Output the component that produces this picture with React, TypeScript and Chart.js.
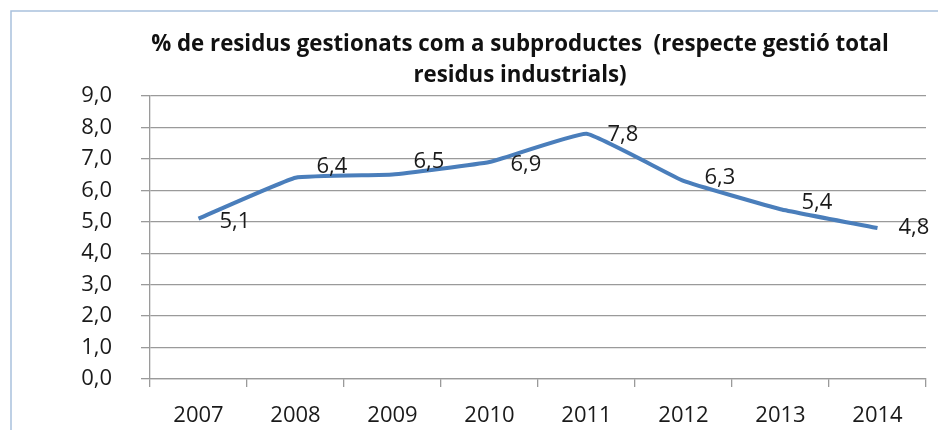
import React, { useEffect, useRef } from "react";
import { Chart, registerables } from "chart.js";

Chart.register(...registerables);

const years = ["2007", "2008", "2009", "2010", "2011", "2012", "2013", "2014"];
const values = [5.1, 6.4, 6.5, 6.9, 7.8, 6.3, 5.4, 4.8];
const labelDy = [3, -11, -13, 3, 1, -3, -6, 0];
const titleLines = [
  "% de residus gestionats com a subproductes  (respecte gestió total",
  "residus industrials)",
];
const yMin = 0;
const yMax = 9;
const yStep = 1;

const FONT = "'Open Sans', 'Liberation Sans', sans-serif";
const fmt = (v: number) => v.toFixed(1).replace(".", ",");

export default function App() {
  const ref = useRef<HTMLCanvasElement | null>(null);

  useEffect(() => {
    if (!ref.current) return;

    const framePlugin = {
      id: "frame",
      beforeDraw(chart: any) {
        const ctx = chart.ctx;
        ctx.save();
        ctx.fillStyle = "#ffffff";
        ctx.fillRect(0, 0, chart.width, chart.height);
        ctx.strokeStyle = "#A9C1DD";
        ctx.lineWidth = 1.5;
        ctx.beginPath();
        ctx.moveTo(11, chart.height);
        ctx.lineTo(11, 11);
        ctx.lineTo(chart.width, 11);
        ctx.stroke();
        // title
        ctx.fillStyle = "#111111";
        ctx.textAlign = "center";
        ctx.textBaseline = "middle";
        let size = 20;
        ctx.font = `bold ${size}px ${FONT}`;
        const w = ctx.measureText(titleLines[0]).width;
        size = (size * 738) / w;
        ctx.font = `bold ${size}px ${FONT}`;
        ctx.fillText(titleLines[0], 520, 45);
        ctx.fillText(titleLines[1], 520, 76);
        ctx.restore();
      },
    };

    const labelPlugin = {
      id: "valueLabels",
      afterDatasetsDraw(chart: any) {
        const ctx = chart.ctx;
        const meta = chart.getDatasetMeta(0);
        ctx.save();
        ctx.font = `22px ${FONT}`;
        ctx.fillStyle = "#1a1a1a";
        ctx.textAlign = "left";
        ctx.textBaseline = "middle";
        meta.data.forEach((pt: any, i: number) => {
          ctx.fillText(fmt(values[i]), pt.x + 21, pt.y + labelDy[i]);
        });
        ctx.restore();
      },
    };

    const chart = new Chart(ref.current, {
      type: "line",
      data: {
        labels: years,
        datasets: [
          {
            data: values,
            borderColor: "#4A7EBB",
            borderWidth: 4,
            pointRadius: 0,
            tension: 0.1,
            fill: false,
          },
        ],
      },
      options: {
        animation: false,
        responsive: false,
        layout: { padding: { top: 96, right: 12, left: 0, bottom: 0 } },
        plugins: {
          legend: { display: false },
          title: { display: false },
          tooltip: { enabled: false },
        },
        scales: {
          x: {
            type: "category",
            offset: true,
            afterFit(scale: any) {
              scale.height = 51;
            },
            grid: {
              display: true,
              drawOnChartArea: false,
              drawTicks: true,
              tickLength: 8,
              offset: true,
              color: "#9A9A9A",
              lineWidth: 1.3,
            },
            border: { display: true, color: "#9A9A9A", width: 1.3 },
            ticks: {
              color: "#1a1a1a",
              font: { family: FONT, size: 22 },
              padding: 16,
              maxRotation: 0,
              autoSkip: false,
            },
          },
          y: {
            min: yMin,
            max: yMax,
            afterFit(scale: any) {
              scale.width = 150;
            },
            grid: {
              color: "#9A9A9A",
              lineWidth: 1.3,
              drawTicks: true,
              tickLength: 9,
            },
            border: { display: true, color: "#9A9A9A", width: 1.3 },
            ticks: {
              stepSize: yStep,
              color: "#1a1a1a",
              font: { family: FONT, size: 22 },
              padding: 29,
              callback: (v: any) => fmt(Number(v)),
            },
          },
        },
      },
      plugins: [framePlugin, labelPlugin],
    });

    return () => chart.destroy();
  }, []);

  return (
    <div
      style={{
        position: "absolute",
        left: 0,
        top: 0,
        width: 938,
        height: 430,
        background: "#fff",
      }}
    >
      <canvas ref={ref} width={938} height={430} style={{ width: 938, height: 430 }} />
    </div>
  );
}
